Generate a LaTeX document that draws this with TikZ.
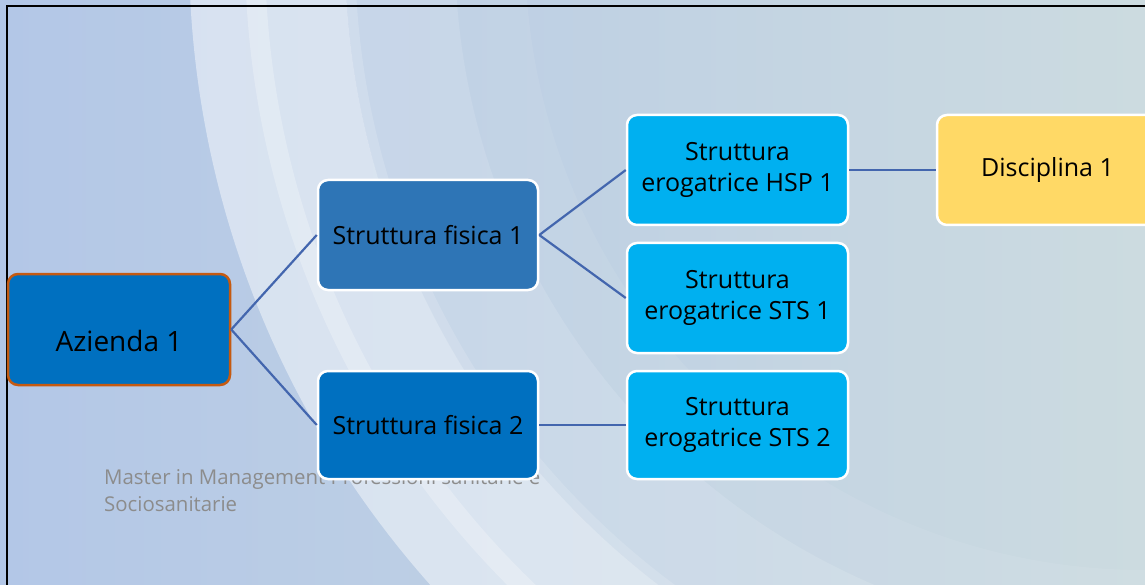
\documentclass[tikz,border=0pt]{standalone}
\usepackage{fontspec}
\setmainfont{Open Sans}
\definecolor{bgL}{HTML}{B3C7E7}
\definecolor{bgR}{HTML}{CCDBE0}
\definecolor{lnk}{HTML}{4366AE}
\definecolor{cAz}{HTML}{0070C0}
\definecolor{cAzB}{HTML}{C55A11}
\definecolor{cSF}{HTML}{2E75B6}
\definecolor{cSE}{HTML}{00B0F0}
\definecolor{cDi}{HTML}{FFD966}
\definecolor{foot}{HTML}{8C8C8C}
\begin{document}
\begin{tikzpicture}[x=1pt,y=-1pt,
  box/.style={draw=white, line width=2.5pt, rounded corners=10pt, inner sep=0pt,
    align=center, text=black, font=\fontsize{25}{31}\selectfont},
  link/.style={draw=lnk, line width=2.2pt}]
\useasboundingbox (0,0) rectangle (1145,585);
% background
\shade[left color=bgL, right color=bgR] (0,0) rectangle (1145,585);
\begin{scope}
\clip (0,0) rectangle (1145,585);
\coordinate (C) at (1145,-50);
\fill[white, opacity=0.45, even odd rule] (C) circle (956pt) (C) circle (800pt);
\fill[white, opacity=0.25, even odd rule] (C) circle (900pt) (C) circle (880pt);
\fill[white, opacity=0.18, even odd rule] (C) circle (800pt) (C) circle (690pt);
\fill[white, opacity=0.07, even odd rule] (C) circle (690pt) (C) circle (620pt);
\fill[white, opacity=0.15, even odd rule] (C) circle (800pt) (C) circle (790pt);
\end{scope}
% frame
\draw[black, line width=2pt] (7,585) -- (7,6) -- (1145,6);
% footer
\node[anchor=base west, text=foot, align=left, inner sep=0pt,
  font=\fontsize{20.4}{27}\selectfont] (ft) at (104,511)
  {Master in Management Professioni sanitarie e\\Sociosanitarie};
% nodes
\node[box, fill=cAz, draw=cAzB, minimum width=222pt, minimum height=111pt,
  font=\fontsize{28}{31}\selectfont] (az) at (119,329.5)
  {\raisebox{-11pt}[\height][\depth]{Azienda 1}};
\node[box, fill=cSF, minimum width=220pt, minimum height=110pt] (sf1) at (428,235) {Struttura fisica 1};
\node[box, fill=cAz, minimum width=220pt, minimum height=108pt] (sf2) at (428,425) {Struttura fisica 2};
\node[box, fill=cSE, minimum width=221pt, minimum height=110pt] (hsp) at (737.5,170) {Struttura\\erogatrice HSP 1};
\node[box, fill=cSE, minimum width=221pt, minimum height=110pt] (sts1) at (737.5,298) {Struttura\\erogatrice STS 1};
\node[box, fill=cSE, minimum width=221pt, minimum height=108pt] (sts2) at (737.5,425) {Struttura\\erogatrice STS 2};
\node[box, fill=cDi, minimum width=221pt, minimum height=110pt] (dis) at (1047.5,170) {Disciplina 1};
% links
\draw[link] (az.east) -- (sf1.west);
\draw[link] (az.east) -- (sf2.west);
\draw[link] (sf1.east) -- (hsp.west);
\draw[link] (sf1.east) -- (sts1.west);
\draw[link] (sf2.east) -- (sts2.west);
\draw[link] (hsp.east) -- (dis.west);
\end{tikzpicture}
\end{document}
